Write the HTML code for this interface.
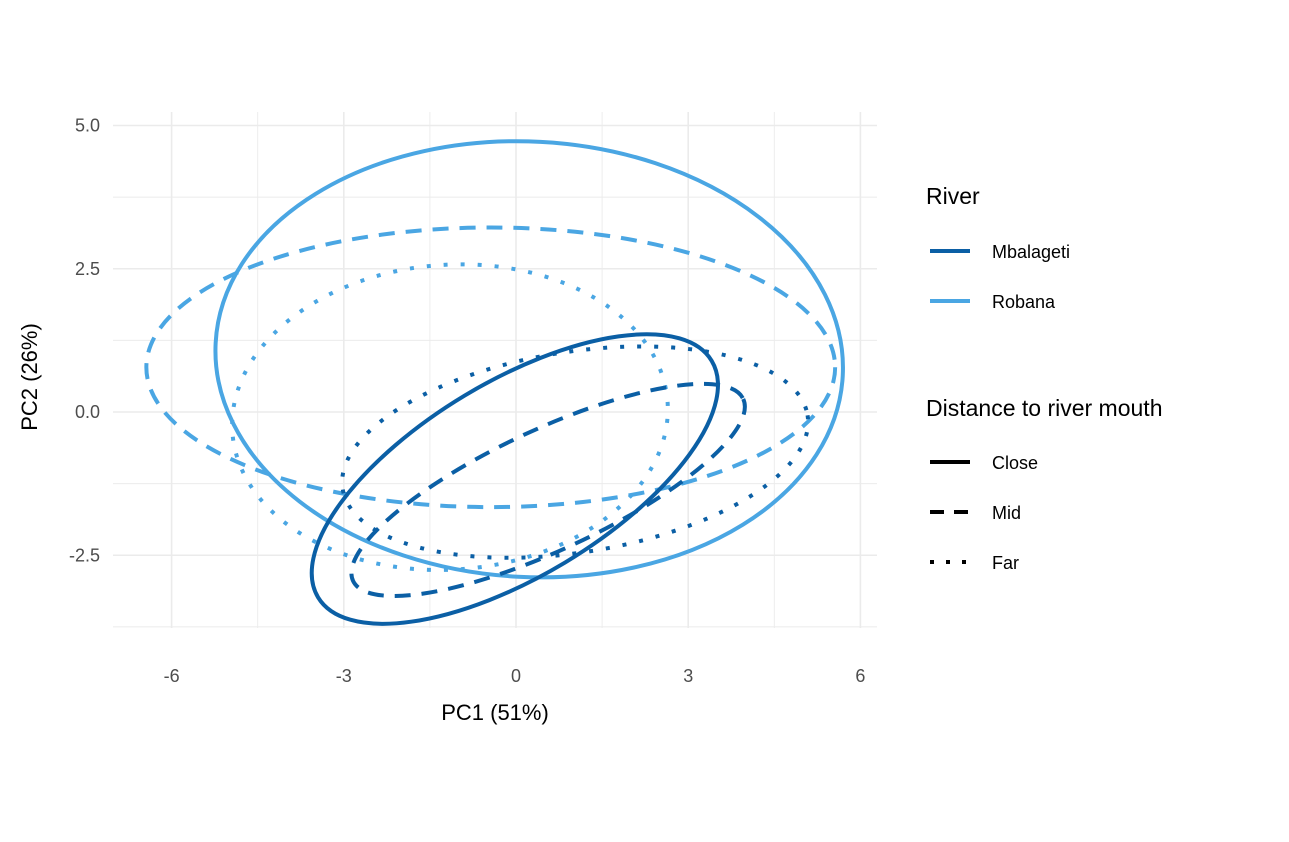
<!DOCTYPE html>
<html><head><meta charset="utf-8"><style>
body{margin:0;background:#fff;}
svg{display:block;font-family:"Liberation Sans",Arial,sans-serif;}
</style></head><body>
<svg id="chart" width="1289" height="842">
<g id="grid"></g>
<g id="ell"></g>
<g id="ticks"></g>
<text x="495" y="720" font-size="22" text-anchor="middle" fill="#000">PC1 (51%)</text>
<text transform="translate(37,377) rotate(-90)" font-size="22" text-anchor="middle" fill="#000">PC2 (26%)</text>
<g>
<text x="926" y="204" font-size="23">River</text>
<line x1="930" y1="251" x2="970" y2="251" stroke="#0b5fa5" stroke-width="4"/>
<text x="992" y="258" font-size="18">Mbalageti</text>
<line x1="930" y1="301" x2="970" y2="301" stroke="#4aa6e3" stroke-width="4"/>
<text x="992" y="308" font-size="18">Robana</text>
<text x="926" y="416" font-size="23">Distance to river mouth</text>
<line x1="930" y1="462" x2="970" y2="462" stroke="#000" stroke-width="4"/>
<text x="992" y="469" font-size="18">Close</text>
<line x1="930" y1="512" x2="970" y2="512" stroke="#000" stroke-width="4" stroke-dasharray="14,10"/>
<text x="992" y="519" font-size="18">Mid</text>
<line x1="930" y1="562" x2="970" y2="562" stroke="#000" stroke-width="4" stroke-dasharray="4,12"/>
<text x="992" y="569" font-size="18">Far</text>
</g>
</svg>
<script>
const xTicks=[-6,-3,0,3,6];
const yTicks=[5.0,2.5,0.0,-2.5];
const groups=["Robana-Close","Robana-Mid","Robana-Far","Mbalageti-Close","Mbalageti-Mid","Mbalageti-Far"];
const centerX=[0.23,-0.44,-1.15,-0.02,0.56,1.03];
const centerY=[0.92,0.78,-0.09,-1.17,-1.36,-0.70];
const semiMajor=[5.47,6.0,3.8,4.0,3.75,4.1];
const semiMinor=[3.8,2.44,2.66,1.7,1.05,1.75];
const angleDeg=[-3,0,4,31,25,9];
const X=v=>516+v*57.4, Y=v=>412-v*57.3;
const NS="http://www.w3.org/2000/svg";
const grid=document.getElementById('grid'),ell=document.getElementById('ell'),tk=document.getElementById('ticks');
function mk(tag,at,parent){const e=document.createElementNS(NS,tag);for(const k in at)e.setAttribute(k,at[k]);parent.appendChild(e);return e;}
for(let v=-7.5;v<=6.01;v+=1.5){if(X(v)<113)continue;
const l=mk('line',{x1:X(v),x2:X(v),y1:112,y2:628,stroke:'#ebebeb','stroke-width':Number.isInteger(v/3)?1.6:0.9},grid);

}
for(let v=-3.75;v<=5.01;v+=1.25){
const l=mk('line',{x1:113,x2:877,y1:Y(v),y2:Y(v),stroke:'#ebebeb','stroke-width':Number.isInteger(v/2.5)?1.6:0.9},grid);

}
xTicks.forEach(v=>{const t=mk('text',{x:X(v),y:682,'font-size':18,'text-anchor':'middle',fill:'#4d4d4d'},tk);t.textContent=v;

});
yTicks.forEach(v=>{const t=mk('text',{x:100,y:Y(v)+6,'font-size':18,'text-anchor':'end',fill:'#4d4d4d'},tk);t.textContent=v.toFixed(1);

});
groups.forEach((g,i)=>{
const river=g.split('-')[0],dist=g.split('-')[1];
const col=river==='Robana'?'#4aa6e3':'#0b5fa5';
const dash=dist==='Mid'?'16,11':dist==='Far'?'4,13':'none';
const e=mk('ellipse',{cx:X(centerX[i]),cy:Y(centerY[i]),rx:semiMajor[i]*57.4,ry:semiMinor[i]*57.3,
transform:`rotate(${-angleDeg[i]} ${X(centerX[i])} ${Y(centerY[i])})`,fill:'none',stroke:col,'stroke-width':4,'stroke-dasharray':dash},ell);


});
</script>
</body></html>
